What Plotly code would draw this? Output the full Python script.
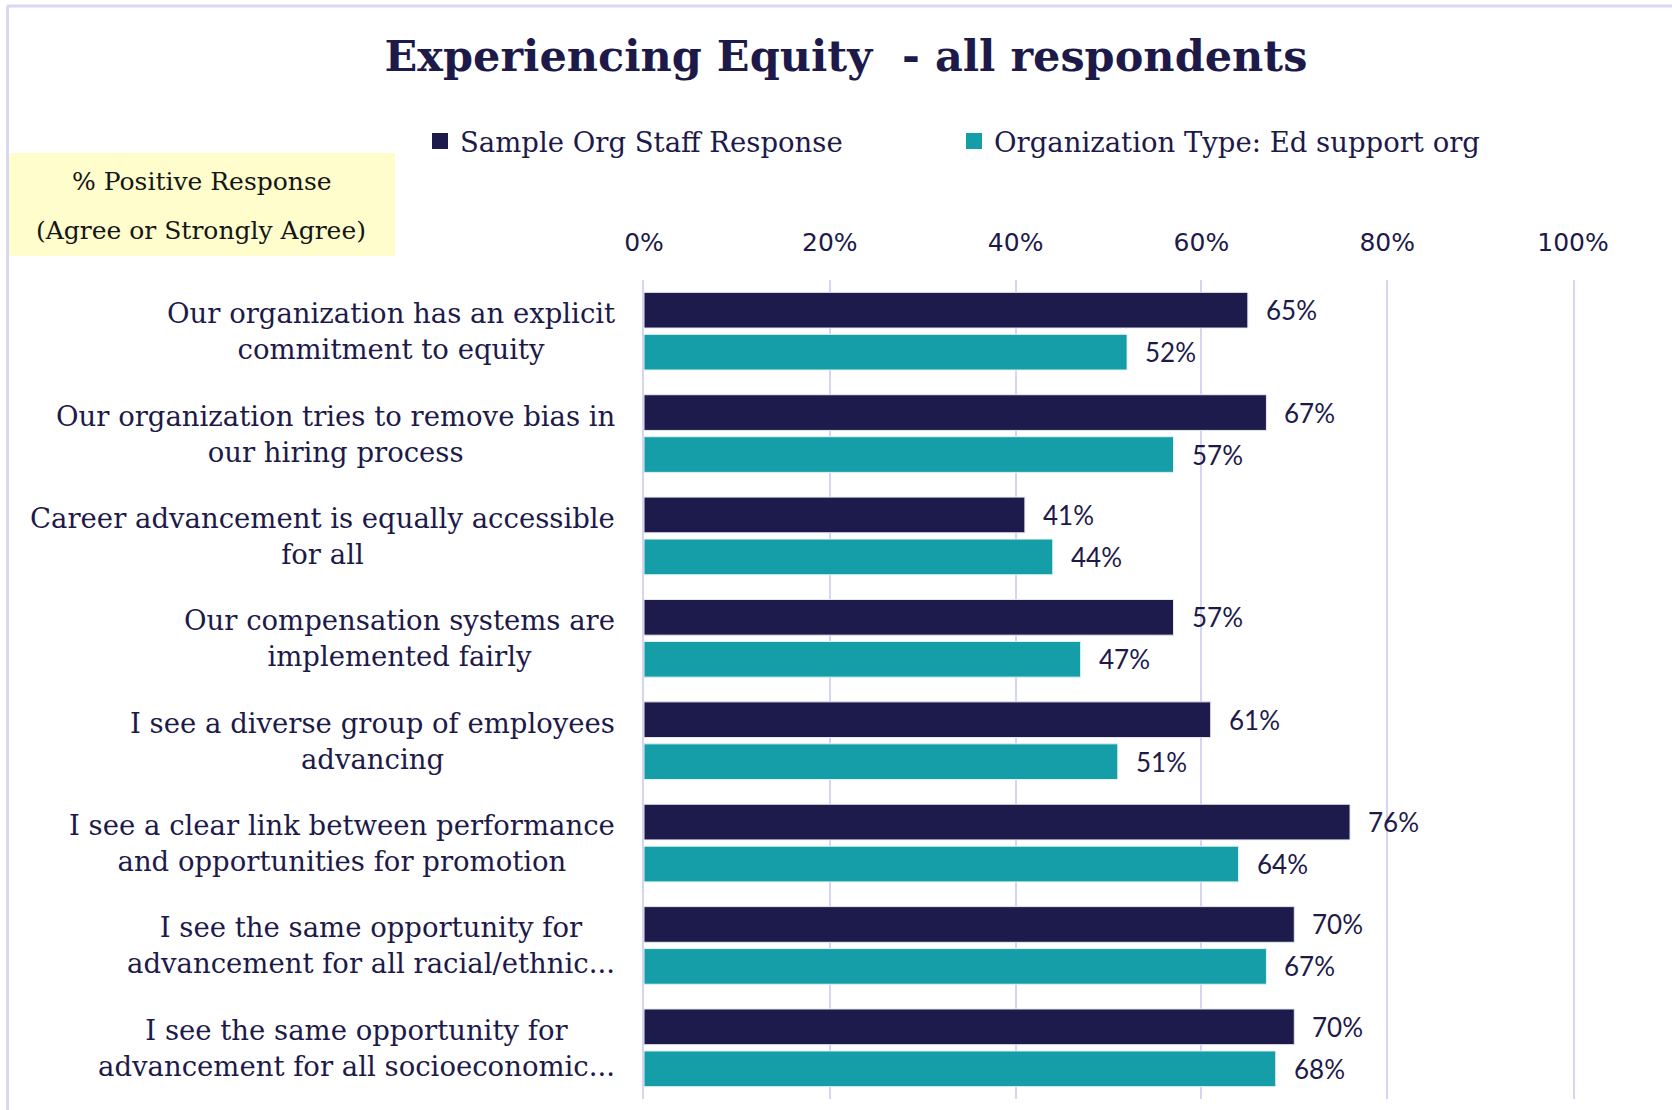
import plotly.graph_objects as go

# ---- data ----
categories = [
    "Our organization has an explicit\ncommitment to equity",
    "Our organization tries to remove bias in\nour hiring process",
    "Career advancement is equally accessible\nfor all",
    "Our compensation systems are\nimplemented fairly",
    "I see a diverse group of employees\nadvancing",
    "I see a clear link between performance\nand opportunities for promotion",
    "I see the same opportunity for\nadvancement for all racial/ethnic...",
    "I see the same opportunity for\nadvancement for all socioeconomic...",
]
sample_org = [65, 67, 41, 57, 61, 76, 70, 70]
org_type = [52, 57, 44, 47, 51, 64, 67, 68]
series_names = ["Sample Org Staff Response", "Organization Type: Ed support org"]
x_ticks = [0, 20, 40, 60, 80, 100]
x_tick_labels = ["0%", "20%", "40%", "60%", "80%", "100%"]

# ---- style ----
W, H = 1672, 1110
ML, MR, MT, MB = 644, 99, 280, 11
NAVY = "#1d1b4b"
TEAL = "#159ea8"
TXT = "#1d1a4a"
GRID = "#d6d4f0"
SERIF = "DejaVu Serif"
SANS = "Lato"
TICKSANS = "DejaVu Sans"

pw = W - ML - MR
ph = H - MT - MB


def px_x(px):
    return (px - ML) / pw


def px_y(py):
    return (H - MB - py) / ph


ids = [c.replace("\n", " ") for c in categories]

fig = go.Figure()
fig.add_trace(go.Bar(y=ids, x=sample_org, name=series_names[0], orientation="h", showlegend=False,
                     marker=dict(color=NAVY, line=dict(color="#e8e8f4", width=1))))
fig.add_trace(go.Bar(y=ids, x=org_type, name=series_names[1], orientation="h", showlegend=False,
                     marker=dict(color=TEAL, line=dict(color="#e0f2f4", width=1))))
# legend entries (square swatches)
for nm, col in zip(series_names, [NAVY, TEAL]):
    fig.add_trace(go.Scatter(x=[None], y=[None], mode="markers", name=nm,
                             marker=dict(symbol="square", size=16, color=col)))

annotations = []
for cid, lab in zip(ids, categories):
    annotations.append(dict(x=0, xref="paper", y=cid, yref="y", text=lab.replace("\n", "<br>"),
                            xanchor="right", yanchor="middle", xshift=-27, align="center",
                            showarrow=False, font=dict(family=SERIF, size=27.5, color=TXT)))
for cid, a, b in zip(ids, sample_org, org_type):
    annotations.append(dict(x=a, xref="x", y=cid, yref="y", text=f"{a}%", xanchor="left",
                            yanchor="middle", xshift=16, yshift=21, showarrow=False,
                            font=dict(family=SANS, size=26, color=TXT)))
    annotations.append(dict(x=b, xref="x", y=cid, yref="y", text=f"{b}%", xanchor="left",
                            yanchor="middle", xshift=16, yshift=-21, showarrow=False,
                            font=dict(family=SANS, size=26, color=TXT)))

# yellow box text
annotations.append(dict(x=px_x(202), y=px_y(181), xref="paper", yref="paper",
                        text="% Positive Response", showarrow=False, xanchor="center",
                        yanchor="middle", font=dict(family=SERIF, size=25, color="#151515")))
annotations.append(dict(x=px_x(201), y=px_y(230), xref="paper", yref="paper",
                        text="(Agree or Strongly Agree)", showarrow=False, xanchor="center",
                        yanchor="middle", font=dict(family=SERIF, size=25, color="#151515")))

shapes = [
    dict(type="rect", xref="paper", yref="paper", x0=px_x(8), x1=px_x(395),
         y0=px_y(256), y1=px_y(153), fillcolor="#fefdcb", line=dict(width=0), layer="below"),
    dict(type="line", xref="paper", yref="paper", x0=px_x(7), x1=px_x(W),
         y0=px_y(6), y1=px_y(6), line=dict(color="#d9d8f2", width=3)),
    dict(type="line", xref="paper", yref="paper", x0=px_x(7.5), x1=px_x(7.5),
         y0=px_y(6), y1=px_y(H), line=dict(color="#d9d8f2", width=3)),
]

fig.update_layout(
    width=W, height=H,
    margin=dict(l=ML, r=MR, t=MT, b=MB, pad=0),
    paper_bgcolor="white", plot_bgcolor="white",
    title=dict(text="Experiencing Equity  - all respondents", x=846 / W, xref="container",
               y=1 - 56 / H, yref="container", xanchor="center", yanchor="middle",
               font=dict(family=SERIF, size=43, color=TXT, weight="bold")),
    barmode="group", bargap=0.18, bargroupgap=0.15,
    showlegend=True,
    legend=dict(orientation="h", x=px_x(420), y=px_y(141), xref="paper", yref="paper",
                xanchor="left", yanchor="middle", entrywidth=489, entrywidthmode="pixels",
                font=dict(family=SERIF, size=27.5, color=TXT), bgcolor="rgba(0,0,0,0)",
                traceorder="normal", itemclick=False, itemdoubleclick=False),
    xaxis=dict(side="top", range=[0, 100], tickvals=x_ticks, ticktext=x_tick_labels,
               showgrid=True, gridcolor=GRID, gridwidth=2, zeroline=False,
               showline=False, ticks="outside", ticklen=18, tickcolor="rgba(0,0,0,0)",
               tickfont=dict(family=TICKSANS, size=25, color=TXT), fixedrange=True),
    yaxis=dict(autorange="reversed", showticklabels=False, showgrid=False, zeroline=False,
               showline=True, linecolor=GRID, linewidth=2, mirror=True, ticks=""),
    annotations=annotations,
    shapes=shapes,
)

fig.write_html("out.html", config={"displayModeBar": False},
               post_script="document.body.style.margin='0';document.body.style.overflow='hidden';")
